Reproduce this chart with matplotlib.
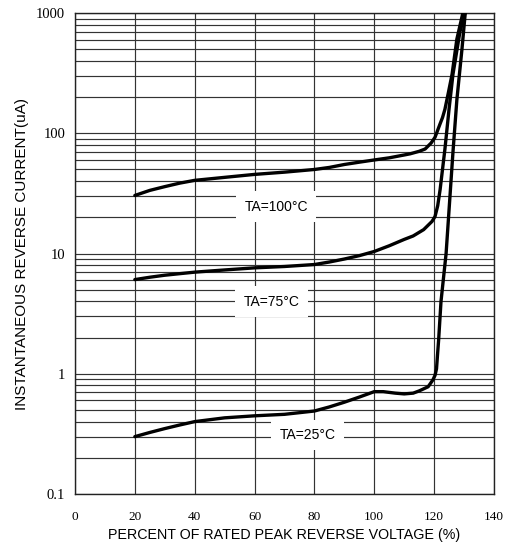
import matplotlib
matplotlib.use("Agg")
import matplotlib.pyplot as plt
from matplotlib.ticker import LogLocator, NullFormatter

# curve data (x in % of rated PRV, y in uA)
x_100 = [20, 25, 30, 35, 40, 50, 60, 70, 80, 85, 90, 95, 100, 105, 110, 112, 115, 117, 119,
         120.3, 121, 122, 122.8, 123.6, 124.8, 126, 127.6, 129.6]
i_100 = [30.4, 33.5, 36, 38.5, 40.6, 43, 45.5, 47.5, 50, 52, 55, 57.5, 60, 62.5, 66, 67.5, 70.8, 74, 83,
         92.6, 103, 120, 135, 158, 220, 310, 607, 1000]

x_75 = [20, 25, 30, 35, 40, 50, 60, 70, 80, 85, 90, 95, 100, 105, 110, 113, 116.5, 119.3,
        120.3, 121.2, 122, 122.8, 123.6, 125, 126.3, 128.6, 130.3]
i_75 = [6.07, 6.35, 6.6, 6.8, 7.0, 7.3, 7.6, 7.8, 8.1, 8.5, 9.0, 9.6, 10.4, 11.6, 13.1, 14.0, 15.8, 18.5,
        20.3, 25, 34, 50, 73.6, 160, 310, 693, 1000]

x_25 = [20, 25, 30, 35, 40, 50, 60, 70, 80, 85, 90, 95, 100, 103, 107, 110, 113, 115, 118,
        119.6, 120.3, 120.8, 121.1, 121.5, 122.3, 124, 126.3, 127.6, 129.3, 130.4]
i_25 = [0.30, 0.325, 0.35, 0.375, 0.40, 0.43, 0.447, 0.46, 0.49, 0.53, 0.58, 0.64, 0.71, 0.71, 0.69, 0.68,
        0.69, 0.72, 0.78, 0.89, 0.97, 1.1, 1.4, 1.9, 4.0, 10, 70, 190, 500, 1000]

labels = ["TA=100°C", "TA=75°C", "TA=25°C"]
label_x = [67.2, 65.7, 77.7]
label_y = [24.6, 3.98, 0.31]

x_ticks = [0, 20, 40, 60, 80, 100, 120, 140]
y_ticks = [0.1, 1, 10, 100, 1000]
y_tick_labels = ["0.1", "1", "10", "100", "1000"]

fig = plt.figure(figsize=(5.08, 5.5), dpi=100)
ax = fig.add_axes([0.1476, 0.1018, 0.8248, 0.8745])

ax.set_yscale("log")
ax.set_xlim(0, 140)
ax.set_ylim(0.1, 1000)

ax.set_xticks(x_ticks)
ax.set_xticklabels([str(v) for v in x_ticks], fontfamily="Liberation Serif", fontsize=9.5)
ax.set_yticks(y_ticks)
ax.set_yticklabels(y_tick_labels, fontfamily="Liberation Serif", fontsize=10.5)
ax.yaxis.set_minor_locator(LogLocator(base=10, subs=range(2, 10)))
ax.yaxis.set_minor_formatter(NullFormatter())
ax.tick_params(axis="both", which="both", length=0)
ax.tick_params(axis="x", pad=12)
ax.tick_params(axis="y", pad=7)

ax.set_axisbelow(True)
ax.grid(True, which="major", color="#333333", linewidth=0.85)
ax.grid(True, which="minor", axis="y", color="#333333", linewidth=0.85)
for s in ax.spines.values():
    s.set_color("#222222")
    s.set_linewidth(1.0)

for xs, ys in [(x_100, i_100), (x_75, i_75), (x_25, i_25)]:
    ax.plot(xs, ys, color="black", linewidth=2.4, solid_capstyle="round",
            solid_joinstyle="round", zorder=4)

for t, tx, ty in zip(labels, label_x, label_y):
    ax.text(tx, ty, t, ha="center", va="center", fontsize=10, fontfamily="Liberation Sans",
            bbox=dict(boxstyle="square,pad=0.6", facecolor="white", edgecolor="none"), zorder=3)

ax.set_xlabel("PERCENT OF RATED PEAK REVERSE VOLTAGE (%)", fontfamily="Liberation Sans",
              fontsize=10.3, labelpad=4)
ax.set_ylabel("INSTANTANEOUS REVERSE CURRENT(uA)", fontfamily="Liberation Sans",
              fontsize=11, labelpad=5)

fig.savefig("out.png", dpi=100)
